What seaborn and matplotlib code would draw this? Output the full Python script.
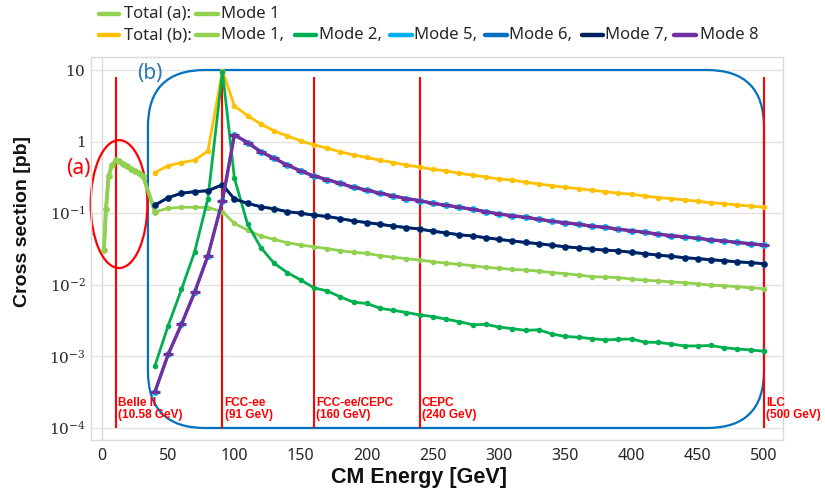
import numpy as np
import pandas as pd
import seaborn as sns
import matplotlib.pyplot as plt
from matplotlib.patches import Ellipse, FancyBboxPatch
from matplotlib.lines import Line2D
from matplotlib.transforms import IdentityTransform

# region (a): low energy scan around Belle II
energy_a = [1.5, 3, 5, 7.5, 10.58, 13, 16, 19, 22, 25, 28, 31, 40]
total_a = [0.031, 0.115, 0.33, 0.47, 0.55, 0.53, 0.49, 0.46, 0.42, 0.39, 0.36, 0.33, 0.105]
mode1_a = total_a

# region (b): 40 - 500 GeV
energy_b = [40, 50, 60, 70, 80, 91] + list(range(100, 510, 10))
total_b = [0.37, 0.46, 0.51, 0.55, 0.74, 9.8, 3.14, 2.30, 1.76, 1.41, 1.20, 1.03, 0.90, 0.81,
           0.72, 0.65, 0.60, 0.55, 0.51, 0.47, 0.44, 0.41, 0.39, 0.36, 0.34, 0.32, 0.30, 0.29,
           0.27, 0.256, 0.242, 0.23, 0.22, 0.209, 0.20, 0.19, 0.184, 0.174, 0.165, 0.16, 0.153,
           0.147, 0.14, 0.136, 0.13, 0.126, 0.121]
mode1_b = [0.105, 0.117, 0.121, 0.121, 0.12, 0.105, 0.072, 0.058, 0.048, 0.043, 0.0387, 0.036,
           0.034, 0.032, 0.030, 0.0284, 0.0275, 0.0255, 0.0242, 0.0232, 0.0222, 0.021, 0.020,
           0.0193, 0.0185, 0.0175, 0.017, 0.0164, 0.0161, 0.0155, 0.0148, 0.0143, 0.0137, 0.013,
           0.0128, 0.0126, 0.012, 0.0116, 0.0113, 0.011, 0.0107, 0.0103, 0.0099, 0.0097, 0.0094,
           0.0091, 0.0088]
mode2_b = [7.4e-4, 2.7e-3, 8.6e-3, 0.029, 0.16, 9.5, 0.31, 0.070, 0.033, 0.020, 0.0148, 0.0117,
           0.0091, 0.0082, 0.0068, 0.0057, 0.0055, 0.0047, 0.0044, 0.0041, 0.0038, 0.0036, 0.0033,
           0.00305, 0.00277, 0.0028, 0.00257, 0.00244, 0.00231, 0.00235, 0.00205, 0.0019, 0.00185,
           0.00177, 0.0017, 0.00173, 0.00175, 0.00158, 0.00157, 0.00149, 0.0014, 0.0014, 0.00142,
           0.00132, 0.00127, 0.00123, 0.00118]
mode7_b = [0.13, 0.165, 0.19, 0.20, 0.206, 0.25, 0.158, 0.137, 0.123, 0.115, 0.105, 0.10, 0.094,
           0.090, 0.084, 0.078, 0.074, 0.070, 0.066, 0.063, 0.060, 0.056, 0.053, 0.050, 0.048,
           0.0455, 0.043, 0.041, 0.039, 0.0375, 0.0356, 0.034, 0.0327, 0.0315, 0.0305, 0.0298,
           0.0284, 0.0272, 0.026, 0.025, 0.0239, 0.0232, 0.0224, 0.0217, 0.0209, 0.0204, 0.0197]
mode8_b = [3.2e-4, 1.07e-3, 2.8e-3, 7.9e-3, 0.0255, 0.15, 1.24, 0.97, 0.72, 0.585, 0.47, 0.39,
           0.33, 0.295, 0.26, 0.23, 0.21, 0.19, 0.174, 0.16, 0.15, 0.137, 0.129, 0.121, 0.113,
           0.105, 0.0975, 0.092, 0.0877, 0.082, 0.077, 0.0736, 0.070, 0.066, 0.0635, 0.0596,
           0.057, 0.054, 0.051, 0.0486, 0.0466, 0.0447, 0.0423, 0.041, 0.039, 0.0375, 0.036]
mode5_b = mode8_b
mode6_b = mode7_b

sites = [10.58, 91, 160, 240, 500]
site_labels = ['Belle II\n(10.58 GeV)', 'FCC-ee\n(91 GeV)', 'FCC-ee/CEPC\n(160 GeV)',
               'CEPC\n(240 GeV)', 'ILC\n(500 GeV)']

y_ticks = [1e-4, 1e-3, 1e-2, 1e-1, 1, 10]
y_ticklabels = [r'$10^{-4}$', r'$10^{-3}$', r'$10^{-2}$', r'$10^{-1}$', r'$1$', r'$10$']
x_ticks = list(range(0, 550, 50))

colors = {'mode1': '#92D050', 'total': '#FFC000', 'mode2': '#00B050', 'mode5': '#00B0F0',
          'mode6': '#0070C0', 'mode7': '#002060', 'mode8': '#7030A0'}

sns.set_theme(style='white')
plt.rcParams['font.family'] = ['Noto Sans', 'DejaVu Sans']
plt.rcParams['mathtext.fontset'] = 'dejavuserif'
BOLD = ['Liberation Sans', 'DejaVu Sans']

fig = plt.figure(figsize=(8.25, 4.92), dpi=100)
ax = fig.add_axes([91.4 / 825, 52 / 492, 691.1 / 825, 383 / 492])
ax.set_yscale('log')
xlim = (-8, 514)
ylim = (10 ** -4.1676, 10 ** 1.1816)
ax.set_xlim(*xlim)
ax.set_ylim(*ylim)


def draw(x, y, color, lw=2.0, marker='o', ms=4.0, mew=0.0, z=3):
    sns.lineplot(x=x, y=y, color=color, lw=lw, marker=marker, markersize=ms,
                 markeredgecolor=color, markeredgewidth=mew, markerfacecolor=color,
                 sort=False, estimator=None, ax=ax, zorder=z, legend=False)


draw(energy_a, total_a, colors['mode1'], lw=2.6, ms=4.5)
draw(energy_a, mode1_a, colors['mode1'], lw=2.6, ms=4.5)
draw(energy_b, total_b, colors['total'], z=3.1)
draw(energy_b, mode1_b, colors['mode1'], z=3.2)
draw(energy_b, mode2_b, colors['mode2'], z=3.3)
draw(energy_b, mode5_b, colors['mode5'], ms=5, z=3.4)
draw(energy_b, mode6_b, colors['mode6'], ms=5, z=3.5)
draw(energy_b, mode7_b, colors['mode7'], ms=4.2, z=3.6)
draw(energy_b, mode8_b, colors['mode8'], lw=2.4, marker='_', ms=7, mew=2.2, z=3.7)

# collider energies
ax.vlines(sites, 1e-4, 8, colors='#FF0000', lw=1.5, zorder=2.5)
for xs, lab in zip(sites, site_labels):
    ax.annotate(lab, xy=(xs, 1e-4), xytext=(1.5, 5), textcoords='offset points',
                ha='left', va='bottom', color='#FF0000', fontsize=8.5, fontweight='bold',
                family=BOLD, linespacing=1.05, clip_on=False, zorder=5)

# axes styling
ax.set_yticks(y_ticks)
ax.set_yticklabels(y_ticklabels)
ax.minorticks_off()
ax.set_xticks(x_ticks)
ax.set_xticklabels([str(t) for t in x_ticks])
ax.tick_params(axis='y', length=0, pad=4, labelsize=11, colors='#262626')
ax.tick_params(axis='x', direction='in', length=8, width=0.8, color='#c8c8c8', pad=6,
               labelsize=11.5, labelcolor='#262626')
for s in ax.spines.values():
    s.set_color('#d9d9d9')
    s.set_linewidth(1.0)
ax.yaxis.grid(True, color='#e3e3e3', lw=1.0, zorder=0)
ax.axvline(0, color='#d9d9d9', lw=1.0, zorder=0.5)
ax.set_axisbelow(True)

ax.text(0.474, -0.099, 'CM Energy [GeV]', transform=ax.transAxes, ha='center', va='center',
        fontsize=15.5, fontweight='bold', family=BOLD, color='#111111')
ax.text(-0.099, 0.57, 'Cross section [pb]', transform=ax.transAxes, ha='center', va='center',
        rotation=90, fontsize=14, fontweight='bold', family=BOLD, color='#111111')

# (a) ellipse and (b) rounded box
ax.add_patch(Ellipse((0.040, 0.616), 0.082, 0.334, transform=ax.transAxes, fill=False,
                     ec='#FF0000', lw=1.6, clip_on=False, zorder=2))
ax.text(-0.019, 0.708, '(a)', transform=ax.transAxes, ha='center', va='center',
        fontsize=15, color='#FF0000')
(bx0, by0), (bx1, by1) = ax.transData.transform([(34.7, 1e-4), (500, 10)])
box = FancyBboxPatch((bx0, by0), bx1 - bx0, by1 - by0,
                     boxstyle='round,pad=0,rounding_size=57', transform=IdentityTransform(),
                     fill=False, ec='#0070C0', lw=1.6, clip_on=False, zorder=1.6)
ax.add_patch(box)
ax.text(0.0848, 0.958, '(b)', transform=ax.transAxes, ha='center', va='center',
        fontsize=15, color='#2E75B6')
ax.set_xlim(*xlim)
ax.set_ylim(*ylim)

# legend drawn by hand (two rows, like the original)
W, H = 825, 492
legend_rows = [
    (14, [(99, 119, 124, 'Total (a):', colors['mode1']),
          (196, 218, 221, 'Mode 1', colors['mode1'])]),
    (35, [(99, 119, 124, 'Total (b):', colors['total']),
          (196, 218, 221, 'Mode 1,', colors['mode1']),
          (295, 316, 319, 'Mode 2,', colors['mode2']),
          (390, 412, 414, 'Mode 5,', colors['mode5']),
          (485, 507, 509, 'Mode 6,', colors['mode6']),
          (582, 603, 605, 'Mode 7,', colors['mode7']),
          (674, 696, 700, 'Mode 8', colors['mode8'])]),
]
for ypx, entries in legend_rows:
    yf = 1 - ypx / H
    for x0, x1, xt, lab, col in entries:
        fig.add_artist(Line2D([x0 / W, x1 / W], [yf, yf], color=col, lw=3.2,
                              transform=fig.transFigure))
        fig.text(xt / W, yf, lab, ha='left', va='center', fontsize=12, color='#262626')

fig.savefig('out.png', dpi=100)
